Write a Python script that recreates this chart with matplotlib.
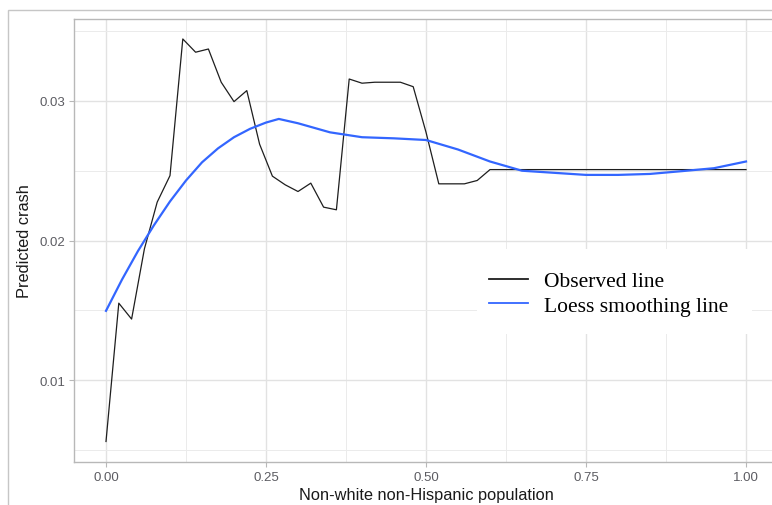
import matplotlib
matplotlib.use("Agg")
import matplotlib.pyplot as plt
from matplotlib.patches import Rectangle
from matplotlib.ticker import FixedLocator

# ---- data ----
obs_x = [0.00, 0.02, 0.04, 0.06, 0.08, 0.10, 0.12, 0.14, 0.16, 0.18,
         0.20, 0.22, 0.24, 0.26, 0.28, 0.30, 0.32, 0.34, 0.36, 0.38,
         0.40, 0.42, 0.44, 0.46, 0.48, 0.50, 0.52, 0.54, 0.56, 0.58,
         0.60, 0.62, 0.64, 0.66, 0.68, 0.70, 0.72, 0.74, 0.76, 0.78,
         0.80, 0.82, 0.84, 0.86, 0.88, 0.90, 0.92, 0.94, 0.96, 0.98, 1.00]
obs_y = [0.00560, 0.01551, 0.01437, 0.01940, 0.02275, 0.02465, 0.03444, 0.03349, 0.03372, 0.03134,
         0.02995, 0.03074, 0.02690, 0.02461, 0.02399, 0.02351, 0.02411, 0.02239, 0.02220, 0.03157,
         0.03127, 0.03134, 0.03134, 0.03134, 0.03102, 0.02776, 0.02406, 0.02406, 0.02406, 0.02430,
         0.02508, 0.02508, 0.02508, 0.02508, 0.02508, 0.02508, 0.02508, 0.02508, 0.02508, 0.02508,
         0.02508, 0.02508, 0.02508, 0.02508, 0.02508, 0.02508, 0.02508, 0.02508, 0.02508, 0.02508, 0.02508]

loess_x = [0.00, 0.025, 0.05, 0.075, 0.10, 0.125, 0.15, 0.175, 0.20, 0.225, 0.25, 0.27,
           0.30, 0.35, 0.40, 0.45, 0.50, 0.55, 0.60, 0.65, 0.70, 0.75, 0.80, 0.85,
           0.90, 0.95, 1.00]
loess_y = [0.01496, 0.01720, 0.01925, 0.02110, 0.02280, 0.02430, 0.02560, 0.02660, 0.02740, 0.02800,
           0.02845, 0.02871, 0.02840, 0.02775, 0.02740, 0.02732, 0.02720, 0.02652, 0.02566, 0.02500,
           0.02485, 0.02470, 0.02470, 0.02477, 0.02497, 0.02518, 0.02566]

x_ticks = [0.00, 0.25, 0.50, 0.75, 1.00]
x_tick_labels = ["0.00", "0.25", "0.50", "0.75", "1.00"]
y_ticks = [0.01, 0.02, 0.03]
y_tick_labels = ["0.01", "0.02", "0.03"]

x_title = "Non-white non-Hispanic population"
y_title = "Predicted crash"
legend_labels = ["Observed line", "Loess smoothing line"]

# ---- figure ----
W, H = 772, 506
fig = plt.figure(figsize=(W / 100, H / 100), dpi=100)
plt.rcParams['font.family'] = ['Liberation Sans', 'DejaVu Sans']

# outer screenshot border
fig.patches.append(Rectangle((8 / W, -0.1), 1.2, (H - 11) / H + 0.1,
                             transform=fig.transFigure, fill=False,
                             edgecolor="#C6C6C6", linewidth=1.0))

left, right, top, bottom = 74, 778, 20, 463
ax = fig.add_axes([left / W, (H - bottom) / H, (right - left) / W, (bottom - top) / H])
ax.set_xlim(-0.05, 1.05)
ax.set_ylim(0.00413, 0.03587)

ax.xaxis.set_major_locator(FixedLocator(x_ticks))
ax.set_xticklabels(x_tick_labels)
ax.yaxis.set_major_locator(FixedLocator(y_ticks))
ax.set_yticklabels(y_tick_labels)
ax.xaxis.set_minor_locator(FixedLocator([0.125, 0.375, 0.625, 0.875]))
ax.yaxis.set_minor_locator(FixedLocator([0.005, 0.015, 0.025, 0.035]))

ax.grid(which="major", color="#E2E2E2", linewidth=1.0)
ax.grid(which="minor", color="#EBEBEB", linewidth=0.7)
ax.set_axisbelow(True)

for s in ax.spines.values():
    s.set_color("#B8B8B8")
    s.set_linewidth(1.0)

ax.tick_params(which="major", length=3.5, width=0.8, color="#B8B8B8",
               labelsize=9.5, labelcolor="#5C5C62", pad=3)
ax.tick_params(which="minor", length=0)

ax.plot(obs_x, obs_y, color="#1E1E1E", linewidth=0.9, label=legend_labels[0], zorder=3)
ax.plot(loess_x, loess_y, color="#3366FF", linewidth=1.6, label=legend_labels[1], zorder=4)

ax.set_xlabel(x_title, fontsize=11.8, color="#1A1A1A", labelpad=3)
ax.set_ylabel(y_title, fontsize=11.8, color="#1A1A1A", labelpad=5)

# white legend background box (covers the grid like the reference)
ax.add_patch(Rectangle((477 / W, (H - 335) / H), (752 - 477) / W, 85 / H,
                       transform=fig.transFigure, facecolor="white",
                       edgecolor="none", zorder=2.5))

leg = ax.legend(loc="center left",
                bbox_to_anchor=(480 / W, (H - 294.5) / H),
                bbox_transform=fig.transFigure,
                prop={"family": "Liberation Serif", "size": 15.5},
                frameon=False,
                handlelength=1.85, handletextpad=0.7, labelspacing=0.22,
                borderpad=0.4, borderaxespad=0)
leg.set_zorder(5)
for h in leg.get_lines():
    h.set_linewidth(1.3)

fig.savefig("out.png", dpi=100)
